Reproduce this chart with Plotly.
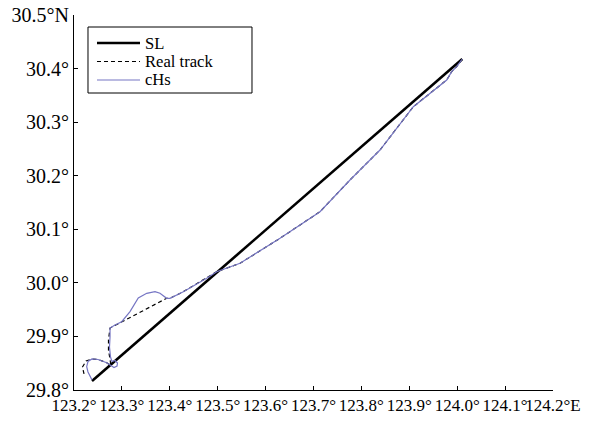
import plotly.graph_objects as go

# SL (straight line)
sl_lon = [123.2376, 124.0106]
sl_lat = [29.8168, 30.4179]

# cHs track
chs_lon = [123.2376, 123.2292, 123.2265, 123.2292, 123.2376, 123.2501, 123.2683, 123.2772,
           123.2835, 123.2898, 123.2908, 123.2856, 123.2793, 123.2762, 123.2741, 123.2752,
           123.2752, 123.2856, 123.2996, 123.3169, 123.3342, 123.3518, 123.3691, 123.3795,
           123.3935, 123.4004, 123.4282, 123.4770, 123.4979, 123.5466, 123.6301, 123.7136,
           123.7762, 123.8388, 123.9084, 123.9781, 123.9885, 123.9990, 124.0106]
chs_lat = [29.8187, 29.8336, 29.8435, 29.8532, 29.8579, 29.8569, 29.8510, 29.8457,
           29.8420, 29.8448, 29.8504, 29.8551, 29.8532, 29.8616, 29.8803, 29.8989,
           29.9157, 29.9213, 29.9275, 29.9462, 29.9717, 29.9805, 29.9835, 29.9805,
           29.9712, 29.9712, 29.9835, 30.0085, 30.0208, 30.0365, 30.0832, 30.1328,
           30.1920, 30.2480, 30.3288, 30.3787, 30.3942, 30.4035, 30.4179]

# Real track
real_lon = [123.2209, 123.2177, 123.2251, 123.2376, 123.2501, 123.2683, 123.2772,
            123.2720, 123.2720, 123.2752, 123.3935, 123.4004, 123.4282, 123.4770,
            123.4979, 123.5466, 123.6301, 123.7136, 123.7762, 123.8388, 123.9084,
            123.9781, 123.9885, 123.9990, 124.0106]
real_lat = [29.8299, 29.8429, 29.8541, 29.8579, 29.8569, 29.8510, 29.8457,
            29.8747, 29.8933, 29.9157, 29.9712, 29.9712, 29.9835, 30.0085,
            30.0208, 30.0365, 30.0832, 30.1328, 30.1920, 30.2480, 30.3288,
            30.3787, 30.3942, 30.4035, 30.4179]

x_tick_vals = [123.2, 123.3, 123.4, 123.5, 123.6, 123.7, 123.8, 123.9, 124.0, 124.1, 124.2]
x_tick_text = ["123.2°", "123.3°", "123.4°", "123.5°", "123.6°", "123.7°", "123.8°",
               "123.9°", "124.0°", "124.1°", "124.2°E"]
y_tick_vals = [29.8, 29.9, 30.0, 30.1, 30.2, 30.3, 30.4, 30.5]
y_tick_text = ["29.8°", "29.9°", "30.0°", "30.1°", "30.2°", "30.3°", "30.4°", "30.5°N"]

series_names = ["SL", "Real track", "cHs"]
series_colors = ["black", "black", "#7676c4"]
series_widths = [2.6, 1.2, 1.2]
series_dash = ["solid", "4px,3px", "solid"]

FONT = "Liberation Serif"

fig = go.Figure()
fig.add_trace(go.Scatter(x=sl_lon, y=sl_lat, mode="lines", name=series_names[0],
                         line=dict(color=series_colors[0], width=series_widths[0])))
fig.add_trace(go.Scatter(x=real_lon, y=real_lat, mode="lines", name=series_names[1],
                         line=dict(color=series_colors[1], width=series_widths[1],
                                   dash=series_dash[1])))
fig.add_trace(go.Scatter(x=chs_lon, y=chs_lat, mode="lines", name=series_names[2],
                         line=dict(color=series_colors[2], width=series_widths[2])))

# Legend box (drawn manually to match compact spacing)
fig.add_shape(type="rect", xref="paper", yref="paper", x0=0.0292, x1=0.3716,
              y0=0.792, y1=0.968, line=dict(color="black", width=1),
              fillcolor="white", layer="above")
leg_y = [0.9253, 0.8760, 0.8267]
for name, c, w, d, yy in zip(series_names, series_colors, series_widths, series_dash, leg_y):
    fig.add_shape(type="line", xref="paper", yref="paper", x0=0.048, x1=0.1378,
                  y0=yy, y1=yy, line=dict(color=c, width=w, dash=d), layer="above")
    fig.add_annotation(xref="paper", yref="paper", x=0.1462, y=yy, text=name,
                       showarrow=False, xanchor="left", yanchor="middle",
                       borderpad=0,
                       font=dict(family=FONT, size=16.6, color="black"))

fig.update_layout(
    width=603, height=423,
    margin=dict(l=74, r=50, t=15, b=33),
    paper_bgcolor="white", plot_bgcolor="white",
    font=dict(family=FONT, color="black"),
    showlegend=False,
    xaxis=dict(range=[123.2, 124.2], tickmode="array", tickvals=x_tick_vals,
               ticktext=x_tick_text, ticks="inside", ticklen=4, tickcolor="black",
               tickangle=0, automargin=False,
               showline=True, linecolor="black", linewidth=1, mirror=False,
               showgrid=False, zeroline=False, tickfont=dict(family=FONT, size=17)),
    yaxis=dict(range=[29.8, 30.5], tickmode="array", tickvals=y_tick_vals,
               ticktext=y_tick_text, ticks="inside", ticklen=4, tickcolor="black",
               automargin=False,
               showline=True, linecolor="black", linewidth=1, mirror=False,
               showgrid=False, zeroline=False, tickfont=dict(family=FONT, size=20)),
)

fig.write_html("out.html", config={"displayModeBar": False},
               post_script="document.body.style.margin='0';document.body.style.padding='0';")
